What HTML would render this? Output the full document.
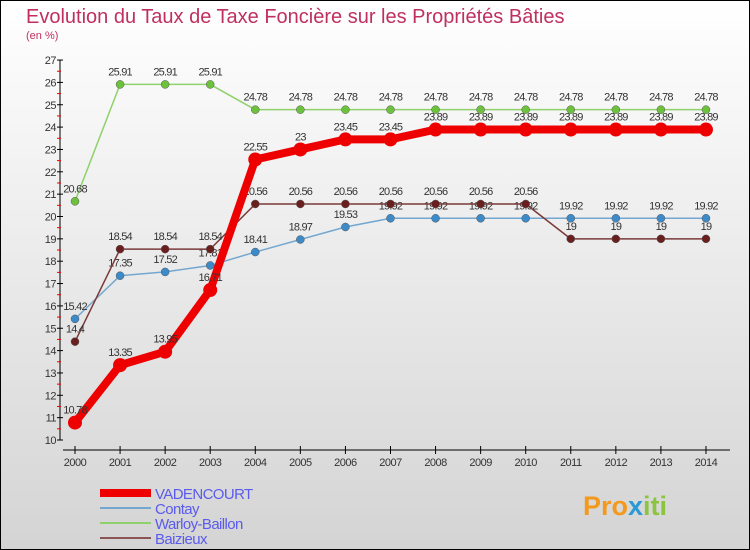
<!DOCTYPE html>
<html><head><meta charset="utf-8"><style>
body{margin:0}
#c{width:750px;height:550px;position:relative;overflow:hidden}
svg text{font-family:"Liberation Sans",sans-serif}
</style></head><body>
<div id="c">
<svg id="s" width="750" height="550" xmlns="http://www.w3.org/2000/svg">
<defs><linearGradient id="bg" x1="0" y1="0" x2="0" y2="1"><stop offset="0" stop-color="#ffffff"/><stop offset="1" stop-color="#d4d4d4"/></linearGradient></defs>
<rect x="0.5" y="0.5" width="749" height="549" fill="url(#bg)" stroke="#000"/>
<text x="26" y="23" font-size="20" fill="#c0305f">Evolution du Taux de Taxe Foncière sur les Propriétés Bâties</text>
<text x="26" y="39" font-size="11" fill="#c0305f">(en %)</text>
<g id="axes"></g><g id="series"></g><g id="legend"></g>
<text x="583" y="515" font-size="27" font-weight="bold" fill="#f39a1e">Pro<tspan fill="#2a9ad6">x</tspan><tspan fill="#8bc540">iti</tspan></text>
</svg></div>
<script>
const years=[2000,2001,2002,2003,2004,2005,2006,2007,2008,2009,2010,2011,2012,2013,2014];
const yTicks=[10,11,12,13,14,15,16,17,18,19,20,21,22,23,24,25,26,27];
const vadencourt=[10.78,13.35,13.95,16.71,22.55,23,23.45,23.45,23.89,23.89,23.89,23.89,23.89,23.89,23.89];
const contay=[15.42,17.35,17.52,17.81,18.41,18.97,19.53,19.92,19.92,19.92,19.92,19.92,19.92,19.92,19.92];
const warloy=[20.68,25.91,25.91,25.91,24.78,24.78,24.78,24.78,24.78,24.78,24.78,24.78,24.78,24.78,24.78];
const baizieux=[14.4,18.54,18.54,18.54,20.56,20.56,20.56,20.56,20.56,20.56,20.56,19,19,19,19];
const names=["VADENCOURT","Contay","Warloy-Baillon","Baizieux"];
const NS="http://www.w3.org/2000/svg";
const X=i=>75+i*45.07, Y=v=>440-(v-10)*22.35;
function mk(t,a,p){const e=document.createElementNS(NS,t);for(const k in a)e.setAttribute(k,a[k]);p.appendChild(e);return e;}
const ax=document.getElementById('axes');
let l=mk('line',{x1:60,y1:60,x2:60,y2:440,stroke:'#000'},ax);


l=mk('line',{x1:63,y1:450,x2:730,y2:450,stroke:'#000'},ax);


yTicks.forEach((v,i)=>{
 mk('line',{x1:57,y1:Y(v),x2:63,y2:Y(v),stroke:'#000'},ax);
 if(i<yTicks.length-1) mk('line',{x1:57,y1:Y(v+0.5),x2:61,y2:Y(v+0.5),stroke:'#e00'},ax);
 const t=mk('text',{x:56,y:Y(v)+4,'font-size':11,fill:'#333','text-anchor':'end','letter-spacing':'-0.5'},ax);
 t.textContent=v;
 
 
});
years.forEach((y,i)=>{
 mk('line',{x1:X(i),y1:446,x2:X(i),y2:454,stroke:'#000'},ax);
 const t=mk('text',{x:X(i),y:466,'font-size':11,fill:'#333','text-anchor':'middle','letter-spacing':'-0.5'},ax);
 t.textContent=y;
 
 
});
const sg=document.getElementById('series');
const defs=[[warloy,'#8fd16a','#6cc23c',1.5,4,'warloy-baillon'],[contay,'#74a7d0','#3d8ac9',1.5,4,'contay'],[baizieux,'#7a3a3a','#6a1f1f',1.5,4,'baizieux'],[vadencourt,'#ee0000','#ee0000',8,7,'vadencourt']];
defs.forEach(([d,lc,pc,w,r,n])=>{
 const g=mk('g',{},sg);
 
 
 const p=mk('polyline',{points:d.map((v,i)=>X(i)+','+Y(v)).join(' '),fill:'none',stroke:lc,'stroke-width':w,'stroke-linejoin':'round'},g);
 
 
 d.forEach((v,i)=>{
  const c=mk('circle',{cx:X(i),cy:Y(v),r:r,fill:pc,stroke:w>2?'none':'#555','stroke-width':0.5},g);
  
  
  const t=mk('text',{x:X(i),y:Y(v)-9,'font-size':11,fill:'#333','text-anchor':'middle','letter-spacing':'-0.8'},g);
  t.textContent=v;
  
  
 });
});
const lg=document.getElementById('legend');
const lcol=['#ee0000','#74a7d0','#8fd16a','#8a5555'],lw=[8,2,2,2];
names.forEach((n,i)=>{
 const y=493+i*15;
 const g=mk('g',{},lg);
 
 
 mk('line',{x1:100,y1:y,x2:151,y2:y,stroke:lcol[i],'stroke-width':lw[i]},g);
 const t=mk('text',{x:155,y:y+6,'font-size':15,fill:'#5a5aee','letter-spacing':'-0.6'},g);
 t.textContent=n;
});
</script>
</body></html>
